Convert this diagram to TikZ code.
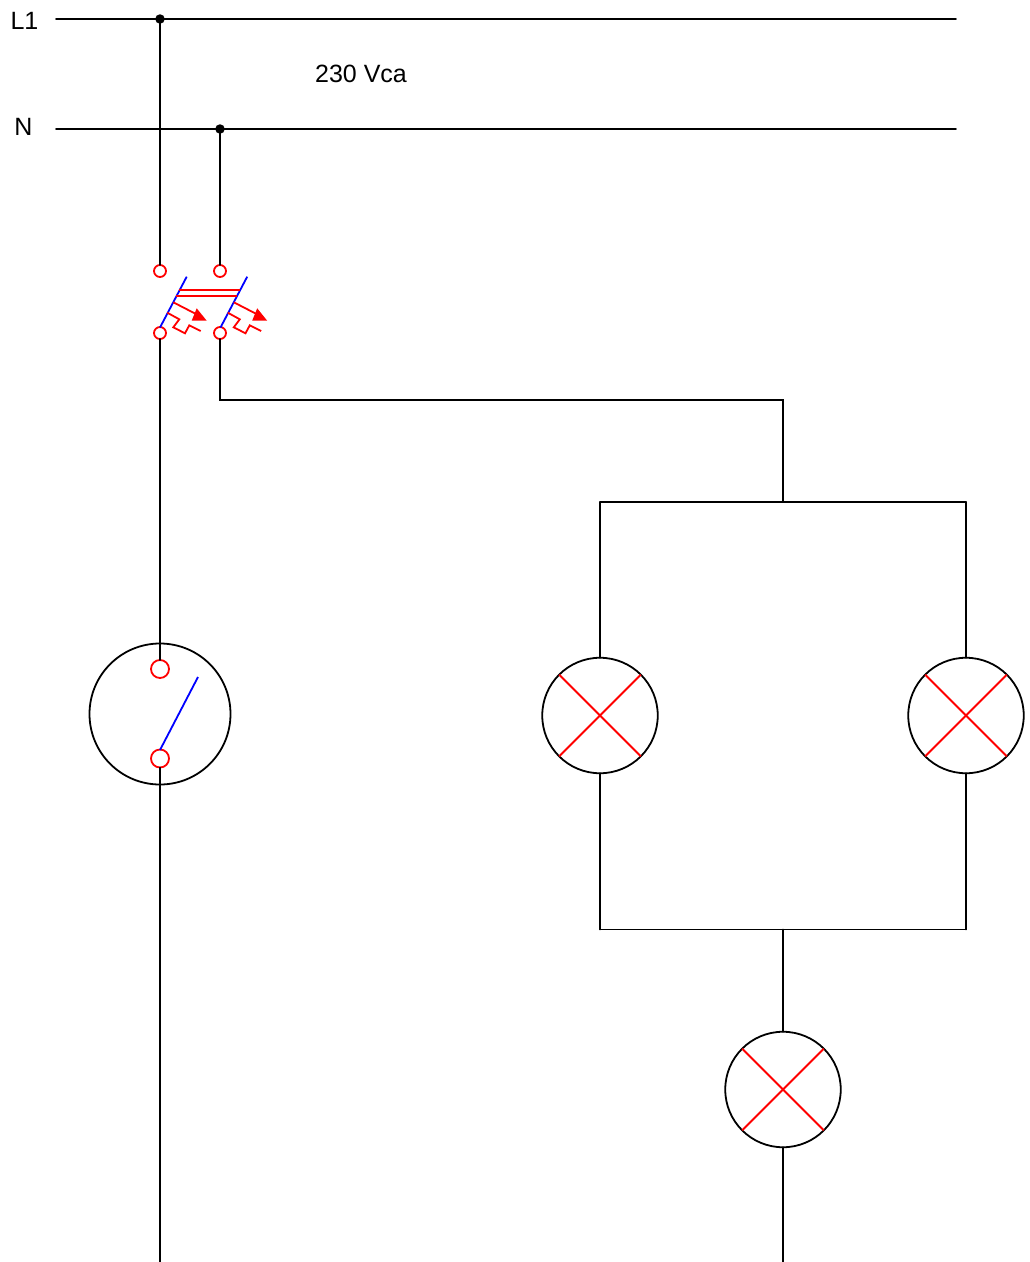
\documentclass[tikz,border=0pt]{standalone}
\usepackage{fontspec}
\setmainfont{Liberation Sans}
\tikzset{
  wire/.style={draw=black,line width=1.8pt,line cap=round,line join=miter},
  dotnode/.style={circle,fill=black,draw=none,inner sep=0pt,minimum size=9.5pt},
  termsmall/.style={circle,draw=red,line width=1.8pt,fill=none,inner sep=0pt,minimum size=12pt,outer sep=0pt},
  termbig/.style={circle,draw=red,line width=1.8pt,fill=none,inner sep=0pt,minimum size=18pt,outer sep=0pt},
  lampnode/.style={circle,draw=black,line width=1.8pt,inner sep=0pt,minimum size=115.5pt,outer sep=0pt},
  switchnode/.style={circle,draw=black,line width=1.8pt,inner sep=0pt,minimum size=141pt,outer sep=0pt},
  redline/.style={draw=red,line width=1.8pt},
  blueline/.style={draw=blue,line width=1.8pt},
  label/.style={inner sep=0pt,font=\fontsize{25}{27}\selectfont,text=black}
}
\begin{document}
\begin{tikzpicture}[x=1pt,y=-1pt]
\useasboundingbox (0,0) rectangle (1029,1262);
\fill[white] (0,0) rectangle (1029,1262);

% labels
\node[label] (lL) at (24.5,21) {L1};
\node[label] (lN) at (23.5,127) {N};
\node[label] (lV) at (361,74) {230 Vca};

% bus coordinates
\coordinate (l1a) at (56,19);
\coordinate (l1b) at (956,19);
\coordinate (na) at (56,129);
\coordinate (nb) at (956,129);
\node[dotnode] (d1) at (160,19) {};
\node[dotnode] (d2) at (220,129) {};

% breaker terminals
\node[termsmall] (ta) at (160,271) {};
\node[termsmall] (tb) at (220,271) {};
\node[termsmall] (ba) at (160,333) {};
\node[termsmall] (bb) at (220,333) {};

% switch
\node[switchnode] (sw) at (160,714) {};
\node[termbig] (st) at (160,669) {};
\node[termbig] (sb) at (160,758.5) {};
\coordinate (stip) at (198,677);
\coordinate (shinge) at (160,750);

% lamps
\node[lampnode] (la) at (600,715.5) {};
\node[lampnode] (lb) at (966,715.5) {};
\node[lampnode] (lc) at (783,1089.5) {};

% wiring coordinates
\coordinate (c1) at (220,400);
\coordinate (c2) at (783,400);
\coordinate (c3) at (783,502);
\coordinate (tl) at (600,502);
\coordinate (tr) at (966,502);
\coordinate (bl) at (600,929.5);
\coordinate (br) at (966,929.5);
\coordinate (bm) at (783,929.5);
\coordinate (e1) at (160,1262);
\coordinate (e2) at (783,1262);

% wires
\path[wire] (l1a) -- (l1b);
\path[wire] (na) -- (nb);
\path[wire] (d1.center) -- (ta.north);
\path[wire] (d2.center) -- (tb.north);
\path[wire] (ba.south) -- (st.north);
\path[wire] (sb.south) -- (e1);
\path[wire] (bb.south) -- (c1) -- (c2) -- (c3);
\path[wire] (tl) -- (tr);
\path[wire] (tl) -- (la.north);
\path[wire] (tr) -- (lb.north);
\path[wire] (la.south) -- (bl);
\path[wire] (lb.south) -- (br);
\path[wire] (bl) -- (br);
\path[wire] (bm) -- (lc.north);
\path[wire] (lc.south) -- (e2);

% lamp crosses
\foreach \n in {la,lb,lc}{
  \path[redline] (\n.north west) -- (\n.south east);
  \path[redline] (\n.north east) -- (\n.south west);
}

% switch blade
\path[blueline] (shinge) -- (stip);

% breaker mechanism
\foreach \dx in {0,60.5}{
  \begin{scope}[xshift=\dx pt]
    \path[blueline] (160,327.5) -- (186.7,276.7);
    \path[redline] (173.3,302.3) -- (196,314);
    \fill[red] (196.7,308.3) -- (206.7,320.7) -- (191.7,320.7) -- cycle;
    \path[redline] (167.3,312.7) -- (179.3,319.3) -- (173.3,327.3) -- (185,333.3) -- (189.3,325.3) -- (200.7,331);
  \end{scope}
}
\path[redline] (179.3,290) -- (240.3,290);
\path[redline] (176.3,296) -- (236.7,296);
\end{tikzpicture}
\end{document}
